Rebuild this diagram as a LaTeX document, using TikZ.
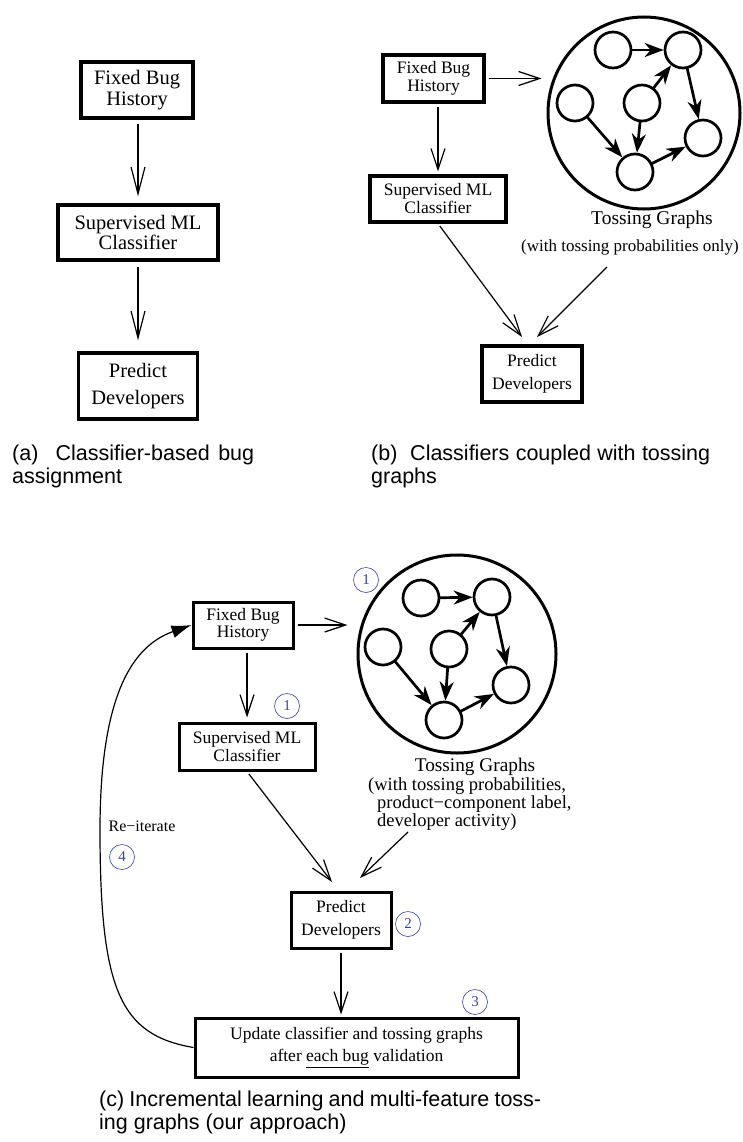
\documentclass[tikz,border=0pt]{standalone}
\usepackage{fontspec}
\setmainfont{Liberation Serif}
\newfontfamily\capfont{Liberation Sans}
\usetikzlibrary{arrows.meta}
\definecolor{numblue}{RGB}{55,65,175}
\begin{document}
\begin{tikzpicture}[x=1pt,y=-1pt,
  bx/.style={draw, line width=3.4pt, inner sep=0pt, align=center},
  fa/.style={font=\fontsize{20.5}{20.5}\selectfont},
  fb/.style={font=\fontsize{17.5}{18.5}\selectfont},
  conna/.style={line width=1.2pt, -{Straight Barb[length=27pt,width=14pt]}},
  conn/.style={line width=1.2pt, -{Straight Barb[length=21pt,width=14pt]}},
  big/.style={circle, draw, line width=3pt, inner sep=0pt},
  gn/.style={circle, draw, line width=2.7pt, minimum size=36pt, inner sep=0pt},
  ge/.style={line width=2.7pt, -{Stealth[length=19pt,width=14pt,inset=6pt]}, shorten <=-1pt},
  numc/.style={circle, draw=numblue, text=numblue, line width=0.6pt, minimum size=25pt, inner sep=0pt, font=\fontsize{15}{15}\selectfont},
  captxt/.style={anchor=north west, inner sep=0pt, align=left, font=\capfont\fontsize{21.5}{23}\selectfont}
]
\useasboundingbox (0,0) rectangle (742,1142);

% ---------- (a)
\node[bx, fa, minimum width=112pt, minimum height=56pt] (fbha) at (137,90) {Fixed Bug\\History};
\node[bx, fa, minimum width=160pt, minimum height=55pt] (smla) at (138,232.5) {Supervised ML\\Classifier};
\node[bx, font=\fontsize{20.5}{27}\selectfont, minimum width=119pt, minimum height=66pt] (pda) at (138,386) {Predict\\Developers};
\draw[conna, shorten <=4pt, shorten >=7pt] (fbha.south -| smla.north) -- (smla.north);
\draw[conna, shorten <=5pt, shorten >=11pt] (smla.south) -- (pda.north -| smla.south);

% ---------- (b)
\node[bx, fb, line width=3.2pt, minimum width=101pt, minimum height=47pt] (fbhb) at (433.5,78.5) {Fixed Bug\\History};
\node[bx, fb, line width=3.2pt, minimum width=136pt, minimum height=46pt, font=\fontsize{17.5}{18}\selectfont] (smlb) at (438,199) {Supervised ML\\Classifier};
\node[bx, line width=3.2pt, font=\fontsize{17.5}{23}\selectfont, minimum width=100pt, minimum height=56pt] (pdb) at (532,374) {Predict\\Developers};
\node[big, minimum size=192pt] (circb) at (644,113) {};
\begin{scope}[shift={(644,113)}]
  \node[gn] (b1) at (-31,-63) {};
  \node[gn] (b2) at (39,-63) {};
  \node[gn] (b3) at (-69,-10) {};
  \node[gn] (b4) at (-2,-10) {};
  \node[gn] (b5) at (59,25) {};
  \node[gn] (b6) at (-9,59) {};
\end{scope}
\draw[ge] (b1) -- (b2);
\draw[ge] (b4) -- (b2);
\draw[ge] (b2) -- (b5);
\draw[ge] (b3) -- (b6);
\draw[ge] (b4) -- (b6);
\draw[ge] (b6) -- (b5);
\node[font=\fontsize{19.5}{19.5}\selectfont, inner sep=0pt] (tgb) at (652,220) {Tossing Graphs};
\node[font=\fontsize{17}{17}\selectfont, inner sep=0pt] (tgbs) at (630,247) {(with tossing probabilities only)};
\coordinate (tgbfrom) at (607,267);
\draw[conn, shorten <=3pt, shorten >=5pt] (fbhb.east) -- (fbhb.east -| circb.west);
\draw[conn, shorten <=3pt, shorten >=3pt] (fbhb.south -| smlb.north) -- (smlb.north);
\coordinate (pdbl) at (522,337);
\coordinate (pdbr) at (537,337);
\draw[conn, shorten <=3pt] (smlb.south) -- (pdbl);
\draw[conn] (tgbfrom) -- (pdbr);

% ---------- (c)
\node[bx, fb, line width=3pt, minimum width=100pt, minimum height=46pt, font=\fontsize{17.5}{17.5}\selectfont] (fbhc) at (243,625) {Fixed Bug\\History};
\node[bx, line width=3pt, minimum width=136pt, minimum height=47pt, font=\fontsize{17.5}{17.5}\selectfont] (smlc) at (247,746.5) {Supervised ML\\Classifier};
\node[bx, line width=3pt, font=\fontsize{17.5}{23}\selectfont, minimum width=100pt, minimum height=56pt] (pdc) at (341,920) {Predict\\Developers};
\node[bx, line width=3pt, font=\fontsize{17.5}{22}\selectfont, minimum width=323pt, minimum height=59pt] (updc) at (356.5,1047.5) {Update classifier and tossing graphs\\after \underline{each bug} validation};
\node[big, minimum size=198pt] (circc) at (457,654) {};
\begin{scope}[shift={(457,654)}]
  \node[gn] (c1) at (-36,-56) {};
  \node[gn] (c2) at (35,-57) {};
  \node[gn] (c3) at (-74,-7) {};
  \node[gn] (c4) at (-8,-5) {};
  \node[gn] (c5) at (54,31) {};
  \node[gn] (c6) at (-13,66) {};
\end{scope}
\draw[ge] (c1) -- (c2);
\draw[ge] (c4) -- (c2);
\draw[ge] (c2) -- (c5);
\draw[ge] (c3) -- (c6);
\draw[ge] (c4) -- (c6);
\draw[ge] (c6) -- (c5);
\node[font=\fontsize{19.3}{19.3}\selectfont, inner sep=0pt] (tgc) at (475,767) {Tossing Graphs};
\node[font=\fontsize{18.5}{18}\selectfont, inner sep=0pt, align=left, anchor=north west] (tgcs) at (368,777) {(with tossing probabilities,\\\hspace*{9pt}product−component label,\\\hspace*{9pt}developer activity)};
\coordinate (tgcfrom) at (408,832);
\coordinate (pdcl) at (332,882);
\coordinate (pdcr) at (360,878);
\draw[conn, shorten <=3pt, shorten >=9pt] (fbhc.east) -- (fbhc.east -| circc.west);
\draw[conn, shorten <=3pt, shorten >=4pt] (fbhc.south -| smlc.north) -- (smlc.north);
\draw[conn, shorten <=3pt] (smlc.south) -- (pdcl);
\draw[conn] (tgcfrom) -- (pdcr);
\draw[conn, shorten <=3pt, shorten >=2pt] (pdc.south) -- (pdc.south |- updc.north);
\coordinate (lp) at (100,830);
\draw[line width=1.2pt, -{Latex[length=20pt,width=13pt]}] (updc.west) .. controls (120,1035) and (100,990) .. (lp) .. controls (100,690) and (135,645) .. (fbhc.west);
\node[font=\fontsize{16}{16}\selectfont, inner sep=0pt] (reit) at (142,826) {Re−iterate};
\node[numc] (n1a) at (366,580) {1};
\node[numc] (n1b) at (287,706) {1};
\node[numc] (n2) at (408,924) {2};
\node[numc] (n3) at (475,1002) {3};
\node[numc] (n4) at (122,857) {4};

% ---------- captions
\node[captxt] (capa) at (12,445) {\makebox[242pt][s]{(a)\ \ Classifier-based bug}\\assignment};
\node[captxt] (capb) at (371,445) {\makebox[339pt][s]{(b)\ \ Classifiers coupled with tossing}\\graphs};
\node[captxt] (capc) at (99,1091) {\makebox[442pt][s]{(c) Incremental learning and multi-feature toss-}\\ing graphs (our approach)};
\end{tikzpicture}
\end{document}
